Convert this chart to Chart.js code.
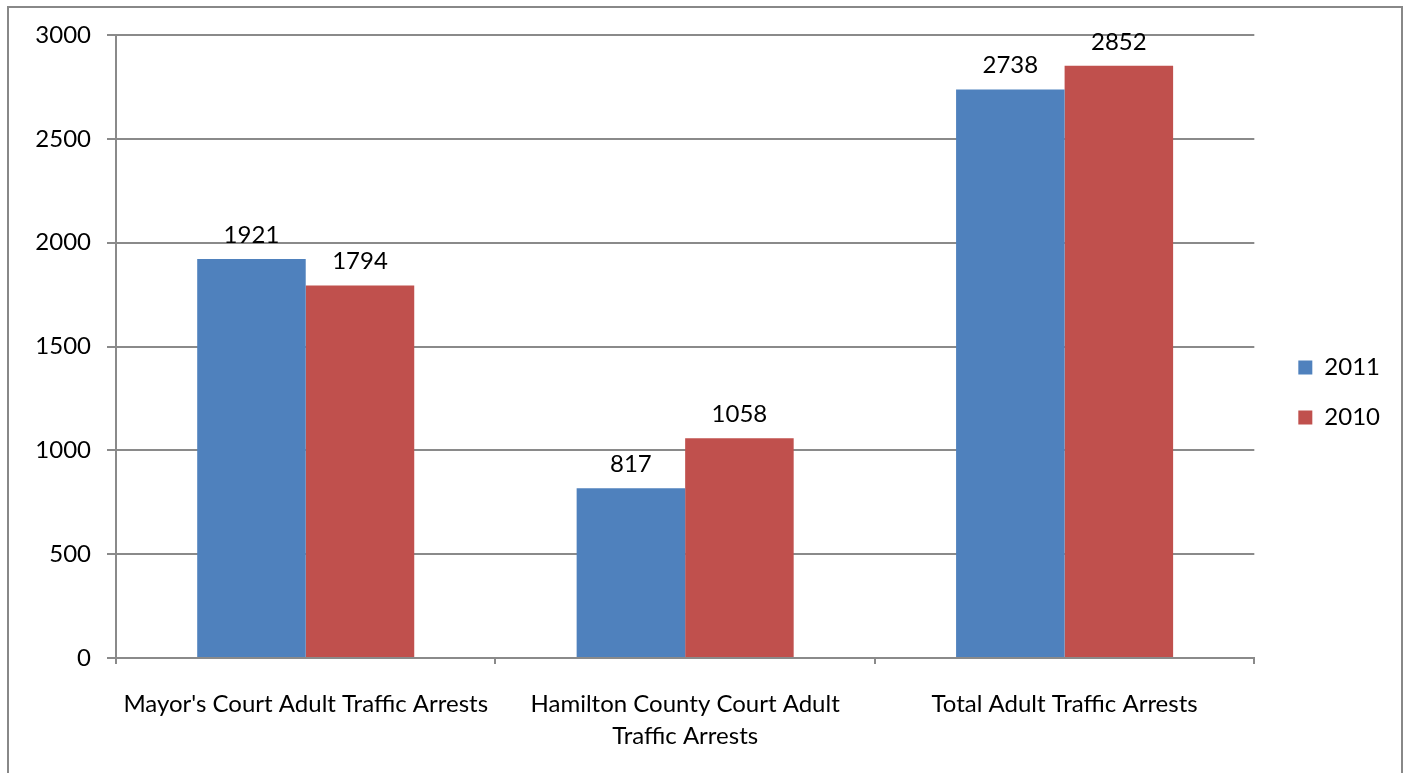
<!DOCTYPE html>
<html>
<head>
<meta charset="utf-8">
<script src="https://cdn.jsdelivr.net/npm/chart.js@4.4.1/dist/chart.umd.min.js"></script>
<style>
  body { margin: 0; background: #fff; overflow: hidden; }
  #frame { position: absolute; left: 7px; top: 6px; width: 1392px; height: 800px;
           border: 2px solid #888; border-bottom: none; }
  #myChart { position: absolute; left: 0; top: 0; }
</style>
</head>
<body>
<div id="frame"></div>
<canvas id="myChart" width="1406" height="750"></canvas>
<script>
// datos del grafico
const categorias = [
  "Mayor's Court Adult Traffic Arrests",
  ["Hamilton County Court Adult", "Traffic Arrests"],
  "Total Adult Traffic Arrests"
];
const serieNombres = ["2011", "2010"];
const valores2011 = [1921, 817, 2738];
const valores2010 = [1794, 1058, 2852];
const colores = ["#4F81BD", "#C0504D"];
const yTicks = [0, 500, 1000, 1500, 2000, 2500, 3000];

const gris = "#8a8a8a";
Chart.defaults.font.family = "Lato, 'Open Sans', sans-serif";
Chart.defaults.color = "#000";

// etiquetas de valor encima de cada barra
const etiquetas = {
  id: "etiquetas",
  afterDatasetsDraw(chart) {
    const ctx = chart.ctx;
    ctx.save();
    ctx.font = "24px Lato";
    ctx.fillStyle = "#000";
    ctx.textAlign = "center";
    ctx.textBaseline = "alphabetic";
    chart.data.datasets.forEach((ds, i) => {
      chart.getDatasetMeta(i).data.forEach((bar, j) => {
        ctx.fillText(ds.data[j], bar.x, bar.y - 16);
      });
    });
    ctx.restore();
  }
};

new Chart("myChart", {
  type: "bar",
  data: {
    labels: categorias,
    datasets: [
      { label: serieNombres[0], data: valores2011, backgroundColor: colores[0] },
      { label: serieNombres[1], data: valores2010, backgroundColor: colores[1] }
    ]
  },
  options: {
    responsive: false,
    animation: false,
    layout: { padding: { top: 35, right: 16, bottom: 0, left: 0 } },
    datasets: { bar: { categoryPercentage: 0.572, barPercentage: 1.0 } },
    plugins: {
      tooltip: { enabled: false },
      legend: {
        position: "right",
        labels: { boxWidth: 14, boxHeight: 14, padding: 26, font: { size: 24 } }
      }
    },
    scales: {
      x: {
        grid: { offset: true, drawOnChartArea: false, drawTicks: true, tickLength: 6, color: gris, lineWidth: 2 },
        border: { display: true, color: gris, width: 2 },
        ticks: { font: { size: 24, lineHeight: 1.33 }, padding: 24, maxRotation: 0, autoSkip: false },
        afterFit(s) { s.height = 92; }
      },
      y: {
        min: 0,
        max: 3000,
        afterBuildTicks(s) { s.ticks = yTicks.map(v => ({ value: v })); },
        grid: { color: gris, lineWidth: 2, tickLength: 9 },
        border: { display: true, color: gris, width: 2 },
        ticks: { font: { size: 24 }, padding: 16, callback: v => String(v) },
        afterFit(s) { s.width = 116; }
      },
      yr: {
        position: "right",
        display: true,
        grid: { display: false },
        border: { display: false },
        ticks: { display: false },
        afterFit(s) { s.width = 18; }
      }
    }
  },
  plugins: [etiquetas]
});
</script>
</body>
</html>
